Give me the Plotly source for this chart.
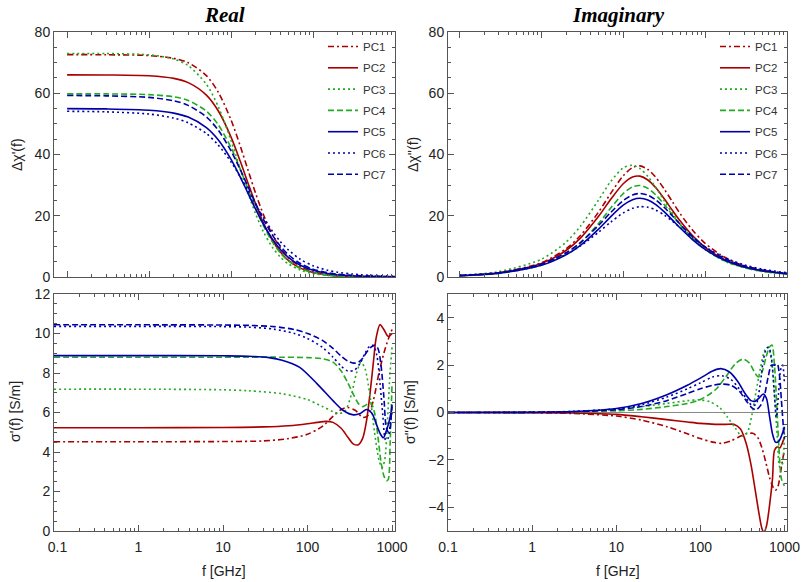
import plotly.graph_objects as go

# ---------------- data ----------------
names = ["PC1", "PC2", "PC3", "PC4", "PC5", "PC6", "PC7"]

# top panels: common frequency grid (GHz)
f_top = [0.1, 0.3, 1, 2, 3, 5, 7, 10, 13, 16, 20, 25, 32, 40, 50, 70, 100, 150, 200, 300, 500, 1000]

chi_re = {
    "PC1": [72.60, 72.57, 72.30, 71.41, 69.98, 65.76, 60.30, 51.26, 42.63, 35.15, 27.20, 20.16, 13.82, 9.50, 6.36, 3.40, 1.70, 0.77, 0.43, 0.19, 0.07, 0.02],
    "PC2": [66.00, 65.97, 65.71, 64.85, 63.46, 59.40, 54.20, 45.69, 37.69, 30.88, 23.76, 17.47, 11.89, 8.14, 5.45, 2.90, 1.45, 0.65, 0.37, 0.16, 0.06, 0.01],
    "PC3": [73.00, 72.96, 72.54, 71.18, 69.02, 62.93, 55.57, 44.51, 35.07, 27.67, 20.51, 14.60, 9.66, 6.49, 4.29, 2.26, 1.12, 0.50, 0.28, 0.13, 0.05, 0.01],
    "PC4": [59.80, 59.78, 59.55, 58.82, 57.64, 54.16, 49.67, 42.22, 35.11, 28.95, 22.41, 16.61, 11.38, 7.83, 5.24, 2.80, 1.40, 0.63, 0.36, 0.16, 0.06, 0.01],
    "PC5": [54.97, 54.89, 54.47, 53.52, 52.21, 48.79, 44.75, 38.43, 32.56, 27.50, 22.08, 17.06, 12.37, 9.00, 6.44, 3.81, 2.17, 1.16, 0.75, 0.42, 0.21, 0.09],
    "PC6": [54.11, 53.93, 53.20, 51.89, 50.35, 46.83, 43.07, 37.56, 32.62, 28.37, 23.73, 19.29, 14.90, 11.55, 8.83, 5.78, 3.67, 2.20, 1.55, 0.96, 0.54, 0.26],
    "PC7": [59.26, 59.15, 58.64, 57.53, 56.04, 52.27, 47.91, 41.17, 34.97, 29.65, 23.94, 18.65, 13.66, 10.05, 7.28, 4.39, 2.56, 1.40, 0.93, 0.53, 0.27, 0.12],
}

chi_im = {
    "PC1": [0.47, 1.40, 4.66, 9.21, 13.54, 21.21, 27.23, 33.07, 35.75, 36.28, 35.10, 32.52, 28.53, 24.52, 20.52, 15.35, 10.97, 7.45, 5.55, 3.68, 2.25, 1.12],
    "PC2": [0.44, 1.32, 4.38, 8.65, 12.69, 19.80, 25.29, 30.46, 32.67, 32.94, 31.68, 29.12, 25.37, 21.71, 18.17, 13.53, 9.67, 6.53, 4.93, 3.29, 1.98, 0.99],
    "PC3": [0.58, 1.75, 5.80, 11.39, 16.56, 25.17, 31.12, 35.61, 36.47, 35.42, 32.82, 29.20, 24.73, 20.77, 17.16, 12.66, 8.98, 6.04, 4.48, 3.03, 1.82, 0.91],
    "PC4": [0.39, 1.16, 3.84, 7.59, 11.15, 17.47, 22.43, 27.24, 29.45, 29.88, 28.92, 26.79, 23.49, 20.21, 16.90, 12.65, 9.03, 6.11, 4.61, 3.08, 1.85, 0.93],
    "PC5": [0.43, 1.22, 3.81, 7.23, 10.35, 15.65, 19.64, 23.44, 25.23, 25.70, 25.16, 23.65, 21.18, 18.57, 15.92, 12.24, 9.02, 6.26, 4.80, 3.28, 2.02, 1.05],
    "PC6": [0.54, 1.42, 4.09, 7.35, 10.15, 14.64, 17.88, 20.93, 22.44, 22.97, 22.79, 21.86, 20.14, 18.17, 16.04, 12.85, 9.86, 7.13, 5.61, 3.96, 2.54, 1.38],
    "PC7": [0.48, 1.36, 4.21, 7.91, 11.26, 16.86, 21.02, 24.96, 26.80, 27.28, 26.72, 25.17, 22.61, 19.91, 17.14, 13.25, 9.82, 6.86, 5.28, 3.63, 2.25, 1.17],
}

# bottom-left: sigma' (S/m)
sre_f = {
    "PC1": [0.1, 1, 10, 30, 60, 100, 150, 200, 250, 300, 370, 450, 520, 600, 700, 800, 900, 1000],
    "PC2": [0.1, 1, 10, 30, 60, 100, 130, 165, 200, 250, 300, 350, 400, 450, 500, 550, 600, 650, 720, 800, 900, 1000],
    "PC3": [0.1, 1, 10, 20, 50, 100, 150, 200, 240, 280, 330, 380, 430, 480, 550, 620, 700, 760, 820, 880, 940, 1000],
    "PC4": [0.1, 1, 10, 50, 100, 150, 200, 250, 300, 350, 400, 450, 500, 560, 620, 680, 740, 800, 860, 900, 950, 1000],
    "PC5": [0.1, 1, 10, 20, 35, 50, 80, 130, 200, 265, 350, 420, 500, 580, 660, 730, 790, 860, 930, 1000],
    "PC6": [0.1, 1, 10, 20, 40, 70, 100, 150, 200, 250, 300, 360, 420, 480, 540, 600, 660, 720, 780, 840, 900, 960, 1000],
    "PC7": [0.1, 1, 10, 20, 40, 70, 100, 150, 200, 250, 300, 350, 400, 450, 500, 560, 620, 680, 740, 800, 860, 920, 1000],
}
sre_v = {
    "PC1": [4.52, 4.52, 4.53, 4.56, 4.68, 4.90, 5.30, 5.80, 6.15, 6.25, 6.10, 5.75, 5.85, 6.60, 8.00, 9.00, 9.70, 10.20],
    "PC2": [5.23, 5.23, 5.24, 5.27, 5.33, 5.43, 5.50, 5.55, 5.50, 5.20, 4.75, 4.40, 4.37, 4.70, 5.60, 7.00, 8.50, 9.80, 10.45, 10.20, 9.85, 10.00],
    "PC3": [7.18, 7.18, 7.15, 7.10, 6.95, 6.65, 6.30, 6.05, 5.95, 6.10, 6.90, 8.00, 8.55, 8.20, 6.80, 5.00, 3.60, 3.20, 3.60, 5.50, 7.80, 9.30],
    "PC4": [8.80, 8.80, 8.80, 8.80, 8.78, 8.72, 8.55, 8.10, 7.50, 6.90, 6.45, 6.30, 6.40, 6.50, 6.00, 4.80, 3.50, 2.80, 2.55, 2.60, 4.50, 7.50],
    "PC5": [8.88, 8.88, 8.87, 8.85, 8.78, 8.65, 8.30, 7.45, 6.60, 6.10, 5.88, 5.95, 6.15, 5.95, 5.35, 4.90, 4.72, 5.10, 5.60, 6.30],
    "PC6": [10.36, 10.36, 10.35, 10.32, 10.22, 10.00, 9.75, 9.30, 8.80, 8.35, 8.10, 8.15, 8.50, 9.00, 9.35, 9.40, 8.90, 7.50, 5.80, 4.60, 4.70, 5.60, 6.00],
    "PC7": [10.44, 10.44, 10.43, 10.41, 10.35, 10.20, 10.00, 9.65, 9.25, 8.85, 8.60, 8.50, 8.55, 8.75, 9.05, 9.30, 9.40, 9.25, 8.40, 6.80, 5.20, 5.00, 6.40],
}

# bottom-right: sigma'' (S/m)
sim_f = {
    "PC1": [0.1, 1, 3, 10, 20, 40, 70, 100, 140, 180, 230, 290, 350, 420, 480, 540, 600, 660, 720, 780, 840, 900, 960, 1000],
    "PC2": [0.1, 1, 3, 10, 20, 40, 70, 100, 150, 200, 250, 300, 350, 400, 450, 500, 540, 570, 610, 660, 720, 760, 820, 880, 940, 1000],
    "PC3": [0.1, 1, 3, 10, 20, 40, 70, 100, 130, 170, 210, 260, 310, 360, 410, 460, 520, 580, 640, 700, 760, 820, 880, 940, 1000],
    "PC4": [0.1, 1, 3, 10, 20, 40, 70, 100, 150, 200, 260, 320, 380, 440, 490, 540, 600, 660, 710, 760, 810, 860, 920, 1000],
    "PC5": [0.1, 1, 3, 10, 20, 40, 70, 100, 140, 175, 220, 280, 340, 400, 450, 500, 560, 610, 660, 720, 780, 830, 880, 940, 1000],
    "PC6": [0.1, 1, 3, 10, 20, 40, 70, 100, 140, 180, 230, 290, 350, 410, 460, 510, 560, 610, 650, 700, 750, 800, 850, 900, 950, 1000],
    "PC7": [0.1, 1, 3, 10, 20, 40, 70, 100, 140, 180, 230, 290, 350, 410, 460, 520, 580, 640, 700, 760, 820, 870, 920, 970, 1000],
}
sim_v = {
    "PC1": [0.0, -0.01, -0.04, -0.15, -0.32, -0.60, -0.90, -1.10, -1.25, -1.30, -1.20, -1.02, -0.90, -0.88, -1.05, -1.50, -2.10, -2.70, -3.10, -3.28, -3.10, -2.50, -1.90, -1.60],
    "PC2": [0.0, -0.005, -0.02, -0.08, -0.18, -0.30, -0.40, -0.46, -0.50, -0.50, -0.50, -0.70, -1.30, -2.20, -3.30, -4.30, -4.90, -5.05, -4.80, -4.00, -2.80, -1.60, -1.45, -1.50, -1.30, -1.05],
    "PC3": [0.0, 0.01, 0.05, 0.15, 0.25, 0.38, 0.50, 0.53, 0.45, 0.20, -0.20, -0.65, -1.00, -0.85, -0.10, 0.90, 1.90, 2.60, 2.75, 2.20, 0.80, -1.00, -2.30, -2.20, -0.50],
    "PC4": [0.0, 0.005, 0.02, 0.07, 0.13, 0.25, 0.38, 0.55, 0.95, 1.50, 2.05, 2.25, 2.10, 1.70, 1.50, 1.70, 2.30, 2.75, 2.85, 2.00, 0.30, -1.50, -2.80, -3.10],
    "PC5": [0.0, 0.01, 0.04, 0.17, 0.38, 0.75, 1.15, 1.45, 1.75, 1.85, 1.72, 1.30, 0.80, 0.50, 0.48, 0.62, 0.78, 0.60, -0.10, -0.90, -1.25, -1.25, -1.15, -0.90, -0.60],
    "PC6": [0.0, 0.01, 0.04, 0.15, 0.33, 0.65, 1.00, 1.25, 1.50, 1.55, 1.40, 1.00, 0.60, 0.30, 0.35, 1.10, 2.20, 2.70, 2.75, 2.30, 1.00, -0.20, 0.80, 1.80, 2.00, 1.20],
    "PC7": [0.0, 0.005, 0.03, 0.12, 0.25, 0.50, 0.80, 1.00, 1.15, 1.20, 1.15, 0.90, 0.50, 0.20, 0.12, 0.30, 0.75, 1.50, 2.00, 2.00, 2.05, 1.60, 0.50, -0.60, -1.10],
}

x_tickvals = [0.1, 1, 10, 100, 1000]
x_ticktext = ["0.1", "1", "10", "100", "1000"]

# ---------------- styles ----------------
RED, GREEN, BLUE = "#AA0000", "#22AA22", "#0000AA"
styles = {
    "PC1": (RED, "6px,3px,2px,3px"),
    "PC2": (RED, "solid"),
    "PC3": (GREEN, "2px,3px"),
    "PC4": (GREEN, "6px,3px"),
    "PC5": (BLUE, "solid"),
    "PC6": (BLUE, "2px,3px"),
    "PC7": (BLUE, "6px,3px"),
}

W, H = 805, 582
def xd(a, b):
    return [a / W, b / W]
def yd(top, bot):
    return [1 - bot / H, 1 - top / H]

fig = go.Figure()

def add(xs, ys, name, xa, ya, legend=None, grp=None):
    col, dash = styles[name]
    fig.add_trace(go.Scatter(
        x=xs, y=ys, mode="lines", name=name,
        line=dict(color=col, dash=dash, width=1.6, shape="spline", smoothing=0.8),
        xaxis=xa, yaxis=ya,
        showlegend=legend is not None, legend=legend or "legend",
        legendgroup=grp,
        hoverinfo="skip",
    ))

for n in names:
    add(f_top, chi_re[n], n, "x", "y", "legend", "L" + n)
for n in names:
    add(f_top, chi_im[n], n, "x2", "y2", "legend2", "R" + n)
for n in names:
    add(sre_f[n], sre_v[n], n, "x3", "y3")
for n in names:
    add(sim_f[n], sim_v[n], n, "x4", "y4")

FONT = "Liberation Sans, Arial, sans-serif"
FRAME = "#555555"
tickfont = dict(family=FONT, size=14, color="#222222")

def xaxis(domain, rng, labels, anchor, ttext=x_ticktext):
    return dict(
        type="log", domain=domain, range=rng, anchor=anchor, automargin=False,
        showline=True, linecolor=FRAME, linewidth=1, mirror="allticks",
        ticks="inside", ticklen=6, tickcolor=FRAME, tickwidth=1,
        tickvals=x_tickvals, ticktext=ttext, showticklabels=labels,
        ticklabelstandoff=3,
        tickfont=tickfont, showgrid=False, zeroline=False,
        minor=dict(ticks="inside", ticklen=3, tickcolor=FRAME,
                   tickvals=[m * 10 ** e for e in range(-1, 3) for m in range(2, 10)],
                   showgrid=False),
    )

def yaxis(domain, rng, dtick, mdtick, anchor, zero=False):
    return dict(
        domain=domain, range=rng, anchor=anchor, automargin=False,
        showline=True, linecolor=FRAME, linewidth=1, mirror="allticks",
        ticks="inside", ticklen=6, tickcolor=FRAME, tickwidth=1,
        dtick=dtick, tick0=0, tickfont=tickfont, showgrid=False,
        zeroline=zero, zerolinecolor="#888888", zerolinewidth=1.5,
        minor=dict(ticks="inside", ticklen=3, tickcolor=FRAME, dtick=mdtick, showgrid=False),
    )

XL, XR = xd(54, 395), xd(448, 787)
YT, YB = yd(32, 277), yd(294, 531)

left_ticktext = ["\u20020.1"] + x_ticktext[1:]

legfont = dict(family=FONT, size=11.5, color="#333333")
fig.update_layout(
    width=W, height=H, margin=dict(l=0, r=0, t=0, b=0, autoexpand=False),
    paper_bgcolor="white", plot_bgcolor="white",
    xaxis=xaxis(XL, [-1.16, 3.0], False, "y"),
    yaxis=yaxis(YT, [0, 80], 20, 5, "x"),
    xaxis2=xaxis(XR, [-1.14, 3.0], False, "y2"),
    yaxis2=yaxis(YT, [0, 80], 20, 5, "x2"),
    xaxis3=xaxis(XL, [-1, 3.035], True, "y3", left_ticktext),
    yaxis3=yaxis(YB, [0, 12], 2, 0.5, "x3"),
    xaxis4=xaxis(XR, [-1, 3.03], True, "y4"),
    yaxis4=yaxis(YB, [-5, 5], 2, 0.5, "x4", zero=True),
    legend=dict(x=323 / W, y=1 - 32 / H, xanchor="left", yanchor="top",
                bgcolor="rgba(0,0,0,0)", font=legfont, tracegroupgap=2.3),
    legend2=dict(x=715 / W, y=1 - 32 / H, xanchor="left", yanchor="top",
                 bgcolor="rgba(0,0,0,0)", font=legfont, tracegroupgap=2.3),
)

ann = []
def text(x, y, t, size=14, angle=0, font=FONT, color="#222222"):
    ann.append(dict(x=x / W, y=1 - y / H, xref="paper", yref="paper", text=t,
                    showarrow=False, textangle=angle, xanchor="center", yanchor="middle",
                    font=dict(family=font, size=size, color=color)))

text(224, 15, "<b><i>Real</i></b>", 21, font="Liberation Serif, Times New Roman, serif", color="black")
text(618, 15, "<b><i>Imaginary</i></b>", 21, font="Liberation Serif, Times New Roman, serif", color="black")
text(17, 155, "Δχ'(f)", 14, -90)
text(413, 155, "Δχ''(f)", 14, -90)
text(15, 412, "σ'(f) [S/m]", 14, -90)
text(410, 412, "σ''(f) [S/m]", 14, -90)
text(224, 571, "f [GHz]", 14)
text(618, 571, "f [GHz]", 14)
fig.update_layout(annotations=ann)

fig.write_html("out.html", config={"displayModeBar": False, "staticPlot": True},
               post_script="document.body.style.margin='0px';document.body.style.overflow='hidden';")
